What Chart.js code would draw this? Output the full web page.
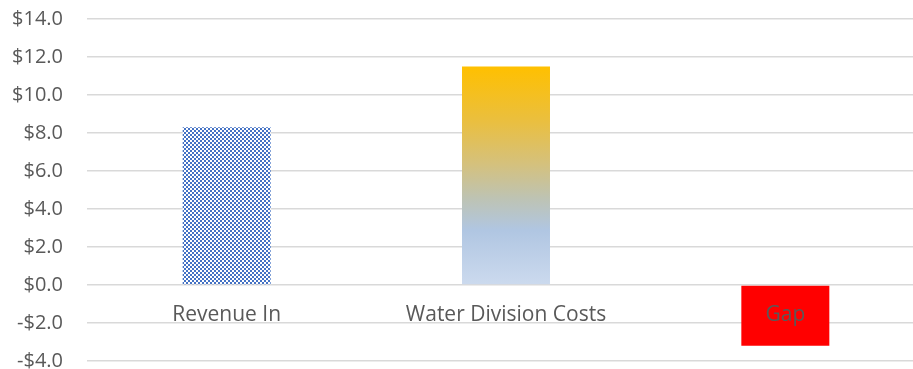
<!DOCTYPE html>
<html>
<head>
<meta charset="utf-8">
<script src="https://cdn.jsdelivr.net/npm/chart.js@4/dist/chart.umd.min.js"></script>
<style>
  html, body { margin: 0; padding: 0; background: #fff; overflow: hidden; }
  #wrap { position: relative; width: 925px; height: 369px; }
</style>
</head>
<body>
<div id="wrap"><canvas id="c"></canvas></div>
<script>
// Budget comparison, $ millions
const categories = ['Revenue In', 'Water Division Costs', 'Gap'];
const amounts = [8.3, 11.5, -3.2];
const yMin = -4;
const yMax = 14;
const yStep = 2;

const TEXT = '#595959';
const GRID = '#d9d9d9';
const FONT = '"Open Sans", sans-serif';
const FONT_SIZE = 20;
const CAT_FONT_SIZE = 21;

// small blue/white checkerboard fill
function checkerPattern() {
  const p = document.createElement('canvas');
  p.width = 4; p.height = 4;
  const g = p.getContext('2d');
  g.fillStyle = '#ffffff';
  g.fillRect(0, 0, 4, 4);
  g.fillStyle = '#4472c4';
  g.fillRect(0, 0, 2, 2);
  g.fillRect(2, 2, 2, 2);
  return g.createPattern(p, 'repeat');
}
const checker = checkerPattern();

function barFill(ctx) {
  const i = ctx.dataIndex;
  if (i === 0) return checker;
  if (i === 2) return '#ff0000';
  const chart = ctx.chart;
  const y = chart.scales && chart.scales.y;
  if (!chart.chartArea || !y) return '#ffc000';
  const top = y.getPixelForValue(amounts[1]);
  const bottom = y.getPixelForValue(0);
  const grad = chart.ctx.createLinearGradient(0, top, 0, bottom);
  grad.addColorStop(0, '#ffc000');
  grad.addColorStop(0.25, '#eabf3f');
  grad.addColorStop(0.45, '#d4c17e');
  grad.addColorStop(0.6, '#bec3b2');
  grad.addColorStop(0.75, '#b0c6e2');
  grad.addColorStop(1, '#ccdaee');
  return grad;
}

function money(v) {
  const s = '$' + Math.abs(v).toFixed(1);
  return v < 0 ? '-' + s : s;
}

// category names sit just under the zero line, drawn over the bars
const categoryLabels = {
  id: 'categoryLabels',
  afterDatasetsDraw(chart) {
    const { ctx, scales: { x, y } } = chart;
    const base = y.getPixelForValue(0) + 36;
    ctx.save();
    ctx.font = CAT_FONT_SIZE + 'px ' + FONT;
    ctx.fillStyle = TEXT;
    ctx.textAlign = 'center';
    ctx.textBaseline = 'alphabetic';
    categories.forEach((name, i) => {
      ctx.fillText(name, x.getPixelForValue(i), base);
    });
    ctx.restore();
  }
};

new Chart(document.getElementById('c'), {
  type: 'bar',
  data: {
    labels: categories,
    datasets: [{
      data: amounts,
      backgroundColor: barFill,
      borderWidth: 0,
      barPercentage: 0.315,
      categoryPercentage: 1
    }]
  },
  options: {
    responsive: true,
    maintainAspectRatio: false,
    animation: false,
    layout: { padding: { left: 0, right: 0, top: 19, bottom: 8 } },
    plugins: { legend: { display: false }, tooltip: { enabled: false } },
    scales: {
      x: {
        display: false
      },
      y: {
        min: yMin,
        max: yMax,
        grid: { color: GRID, lineWidth: 1.5, drawTicks: false },
        border: { display: false },
        ticks: {
          stepSize: yStep,
          color: TEXT,
          font: { family: FONT, size: FONT_SIZE },
          padding: 24,
          callback: money
        },
        afterFit(scale) {
          scale.width = 87;
          scale.paddingTop = 0;
          scale.paddingBottom = 0;
        }
      }
    }
  },
  plugins: [categoryLabels]
});
</script>
</body>
</html>
